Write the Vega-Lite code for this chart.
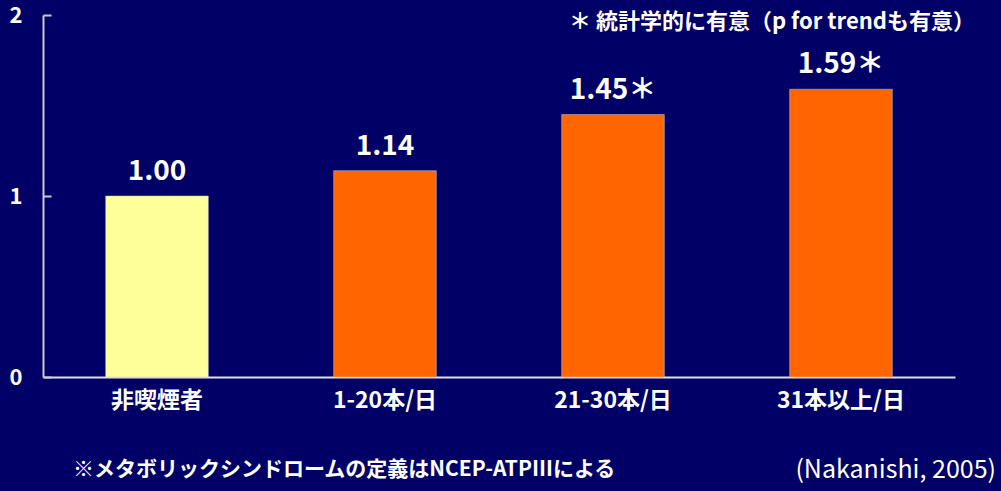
{
  "$schema": "https://vega.github.io/schema/vega-lite/v6.json",
  "width": 912,
  "height": 362,
  "autosize": {"type": "none"},
  "padding": {"left": 43, "top": 15, "right": 46, "bottom": 114},
  "background": "#000066",
  "config": {
    "view": {"stroke": null},
    "font": "Noto Sans CJK JP",
    "text": {"font": "Noto Sans CJK JP", "color": "#ffffff", "fontWeight": "bold"}
  },
  "data": {
    "values": [
      {"cat": "非喫煙者", "rr": 1.0, "label": "1.00", "group": "ref"},
      {"cat": "1-20本/日", "rr": 1.14, "label": "1.14", "group": "smoker"},
      {"cat": "21-30本/日", "rr": 1.45, "label": "1.45＊", "group": "smoker"},
      {"cat": "31本以上/日", "rr": 1.59, "label": "1.59＊", "group": "smoker"}
    ]
  },
  "layer": [
    {
      "mark": {"type": "bar", "stroke": "#c8c8d8", "strokeWidth": 0.5},
      "encoding": {
        "x": {
          "field": "cat", "type": "nominal", "sort": null,
          "scale": {"paddingInner": 0.55, "paddingOuter": 0.275},
          "axis": {
            "title": null, "labelAngle": 0, "labelColor": "#ffffff",
            "labelFont": "Noto Sans CJK JP", "labelFontWeight": "bold", "labelFontSize": 23,
            "labelPadding": 12, "ticks": false, "domainColor": "#e0e0ec", "domainWidth": 2
          }
        },
        "y": {
          "field": "rr", "type": "quantitative",
          "scale": {"domain": [0, 2]},
          "axis": {
            "title": null, "values": [0, 1, 2], "labelExpr": "'' + datum.value", "grid": false,
            "labelOverlap": false, "labelFlush": false, "labelBound": false,
            "labelColor": "#ffffff", "labelFont": "Noto Sans CJK JP", "labelFontWeight": "bold",
            "labelFontSize": 22, "tickSize": -8, "tickColor": "#c8c8d8", "tickWidth": 2,
            "labelPadding": 29, "domainColor": "#c8c8d8", "domainWidth": 2
          }
        },
        "color": {
          "field": "group", "type": "nominal",
          "scale": {"domain": ["ref", "smoker"], "range": ["#ffff99", "#ff6600"]},
          "legend": null
        }
      }
    },
    {
      "mark": {"type": "text", "baseline": "bottom", "dy": -10, "fontSize": 28},
      "encoding": {
        "x": {"field": "cat", "type": "nominal", "sort": null},
        "y": {"field": "rr", "type": "quantitative"},
        "text": {"field": "label"}
      }
    },
    {
      "data": {"values": [{"cat": "31本以上/日", "v": 2, "note": "＊ 統計学的に有意（p for trendも有意）"}]},
      "mark": {"type": "text", "align": "right", "baseline": "middle", "dx": 134, "dy": 7, "fontSize": 22},
      "encoding": {
        "x": {"field": "cat", "type": "nominal", "sort": null},
        "y": {"field": "v", "type": "quantitative"},
        "text": {"field": "note"}
      }
    },
    {
      "data": {"values": [{"cat": "非喫煙者", "v": 0, "note": "※メタボリックシンドロームの定義はNCEP-ATPⅢによる"}]},
      "mark": {"type": "text", "align": "left", "baseline": "middle", "dx": -84, "dy": 93, "fontSize": 21},
      "encoding": {
        "x": {"field": "cat", "type": "nominal", "sort": null},
        "y": {"field": "v", "type": "quantitative"},
        "text": {"field": "note"}
      }
    },
    {
      "data": {"values": [{"cat": "31本以上/日", "v": 0, "note": "(Nakanishi, 2005)"}]},
      "mark": {"type": "text", "align": "right", "baseline": "middle", "dx": 155, "dy": 93, "fontSize": 25, "fontWeight": "normal"},
      "encoding": {
        "x": {"field": "cat", "type": "nominal", "sort": null},
        "y": {"field": "v", "type": "quantitative"},
        "text": {"field": "note"}
      }
    }
  ]
}
